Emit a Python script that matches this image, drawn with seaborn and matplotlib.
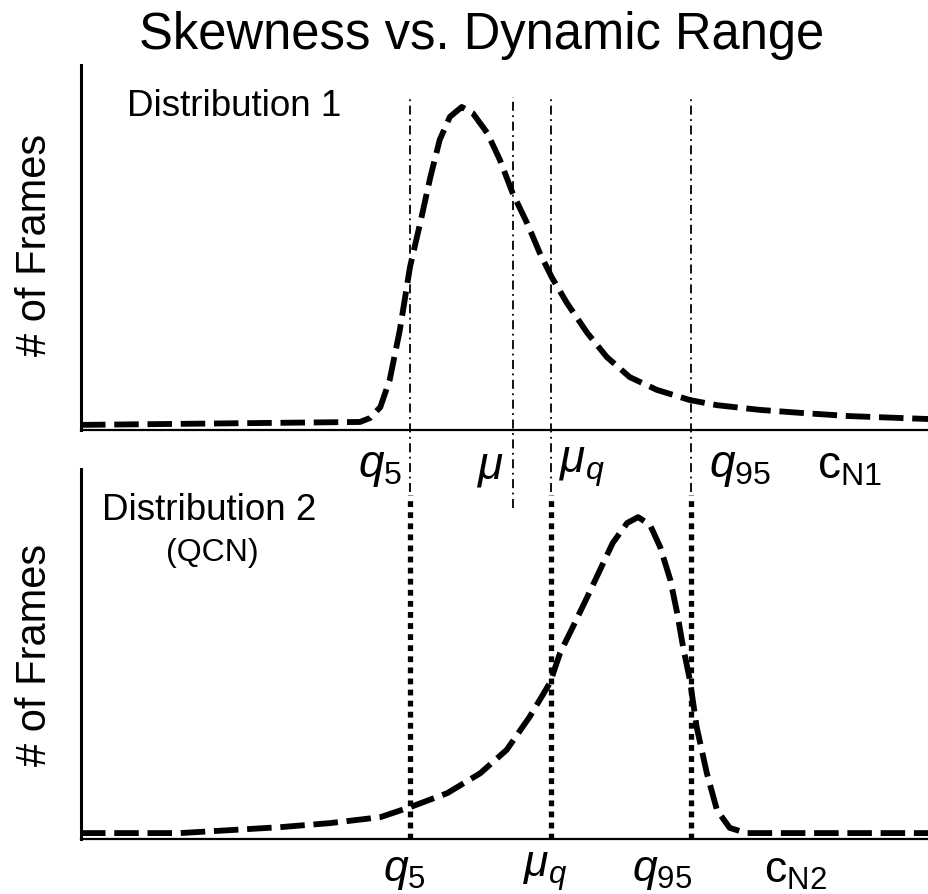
import matplotlib
matplotlib.use("Agg")
import matplotlib.pyplot as plt
import seaborn as sns
import pandas as pd

# ---- data (x and y in 0..100 axis units) ----
d1_x = [0, 32.9, 34.1, 35.3, 36.4, 37.6, 38.8, 40.0, 41.2, 42.3, 43.5, 44.9, 46.2,
        47.9, 49.4, 50.9, 52.6, 54.1, 55.5, 57.3, 59.7, 62.0, 64.7, 67.9, 71.8,
        75.0, 80.1, 84.8, 90.7, 100]
d1_y = [1.4, 2.2, 3.3, 6.3, 13.7, 27.4, 44.7, 56.7, 69.3, 79.5, 85.8, 88.5, 86.8,
        81.4, 74.0, 64.9, 56.7, 48.5, 41.9, 34.8, 26.6, 20.0, 14.5, 11.0, 8.2,
        6.8, 5.5, 4.7, 3.8, 3.0]

d2_x = [0, 11.7, 17.6, 23.5, 29.4, 35.3, 38.8, 43.2, 47.1, 50.2, 52.9, 55.3, 56.5,
        58.0, 59.7, 61.2, 62.7, 64.4, 65.7, 67.1, 68.3, 69.5, 70.3, 71.0, 71.8,
        72.6, 73.8, 75.0, 76.5, 78.5, 100]
d2_y = [1.6, 1.6, 2.4, 3.2, 4.3, 5.9, 8.6, 12.4, 17.8, 24.1, 33.0, 42.2, 50.3,
        57.3, 65.4, 72.7, 80.0, 85.4, 87.0, 84.9, 78.9, 70.0, 61.1, 51.9, 43.0,
        30.3, 17.8, 7.8, 3.0, 1.6, 1.6]

# marker positions
top_marks = [38.8, 50.9, 55.4, 71.9]          # q5, mu, mu_q, q95
bottom_marks = [38.8, 55.4, 71.9]             # q5, mu_q, q95

top_labels = [r'$q_{5}$', r'$\mu$', r'$\mu_{q}$', r'$q_{95}$', r'$\mathrm{c}_{\mathrm{N1}}$']
top_label_x = [35.3, 48.3, 59.1, 77.7, 90.6]
bottom_labels = [r'$q_{5}$', r'$\mu_{q}$', r'$q_{95}$', r'$\mathrm{c}_{\mathrm{N2}}$']
bottom_label_x = [38.1, 54.7, 68.5, 84.2]

title = "Skewness vs. Dynamic Range"
ylabel = "# of Frames"

# ---- style ----
sns.set_style("white")
plt.rcParams['font.family'] = ['Liberation Sans', 'DejaVu Sans']
plt.rcParams['text.color'] = 'black'
plt.rcParams['mathtext.fontset'] = 'custom'
plt.rcParams['mathtext.default'] = 'it'
plt.rcParams['mathtext.rm'] = 'Liberation Sans'
plt.rcParams['mathtext.it'] = 'Liberation Sans:italic'
plt.rcParams['mathtext.bf'] = 'Liberation Sans:bold'

W, H = 929, 894
fig = plt.figure(figsize=(W / 100, H / 100), dpi=100)
ax1 = fig.add_axes([81 / W, (H - 430) / H, (W - 81) / W, 365 / H])
ax2 = fig.add_axes([81 / W, (H - 839) / H, (W - 81) / W, 370 / H])

df1 = pd.DataFrame({"x": d1_x, "y": d1_y})
df2 = pd.DataFrame({"x": d2_x, "y": d2_y})

curve_style = dict(color="black", linewidth=4.2, linestyle=(0, (4.2, 1.5)),
                   dash_capstyle="butt", zorder=3)
sns.lineplot(data=df1, x="x", y="y", ax=ax1, **curve_style)
sns.lineplot(data=df2, x="x", y="y", ax=ax2, **curve_style)

for ax in (ax1, ax2):
    ax.set_xlim(0, 100)
    ax.set_ylim(0, 100)
    ax.set_xticks([])
    ax.set_yticks([])
    ax.set_xlabel("")
    ax.set_ylabel("")
    ax.patch.set_alpha(0)
    for s in ("top", "right"):
        ax.spines[s].set_visible(False)
    ax.spines["left"].set_linewidth(2.2)
    ax.spines["bottom"].set_linewidth(1.6)
    ax.spines["left"].set_color("black")
    ax.spines["bottom"].set_color("black")

# dash-dot lines in the top panel (extend below its axis)
for i, xv in enumerate(top_marks):
    ymin = -0.214 if i == 1 else -0.170
    ax1.axvline(xv, ymin=ymin, ymax=0.912, color="black", linewidth=1.3,
                linestyle=(0, (5, 2.5, 1, 2.5)), clip_on=False, zorder=2)

# thick dotted lines in the bottom panel
for xv in bottom_marks:
    ax2.axvline(xv, ymin=0.0, ymax=0.93, color="black", linewidth=3.8,
                linestyle=(0, (1.1, 1.0)), dash_capstyle="butt", clip_on=False, zorder=2)

# axis labels (category marks)
for lab, xv in zip(top_labels, top_label_x):
    ax1.text(xv, -0.101, lab, transform=ax1.get_xaxis_transform(), ha="center",
             va="center", fontsize=33, color="black")
for lab, xv in zip(bottom_labels, bottom_label_x):
    ax2.text(xv, -0.088, lab, transform=ax2.get_xaxis_transform(), ha="center",
             va="center", fontsize=32, color="black")

# texts
fig.text(482 / W, (H - 35) / H, title, ha="center", va="center", fontsize=36.5, color="black")
fig.text(127 / W, (H - 107) / H, "Distribution 1", ha="left", va="center", fontsize=26.5, color="black")
fig.text(102 / W, (H - 511) / H, "Distribution 2", ha="left", va="center", fontsize=26.5, color="black")
fig.text(212 / W, (H - 553) / H, "(QCN)", ha="center", va="center", fontsize=23, color="black")
fig.text(35 / W, (H - 245) / H, ylabel, ha="center", va="center", rotation=90, fontsize=30, color="black")
fig.text(35 / W, (H - 655) / H, ylabel, ha="center", va="center", rotation=90, fontsize=30, color="black")

fig.savefig("out.png", dpi=100, facecolor="white")
